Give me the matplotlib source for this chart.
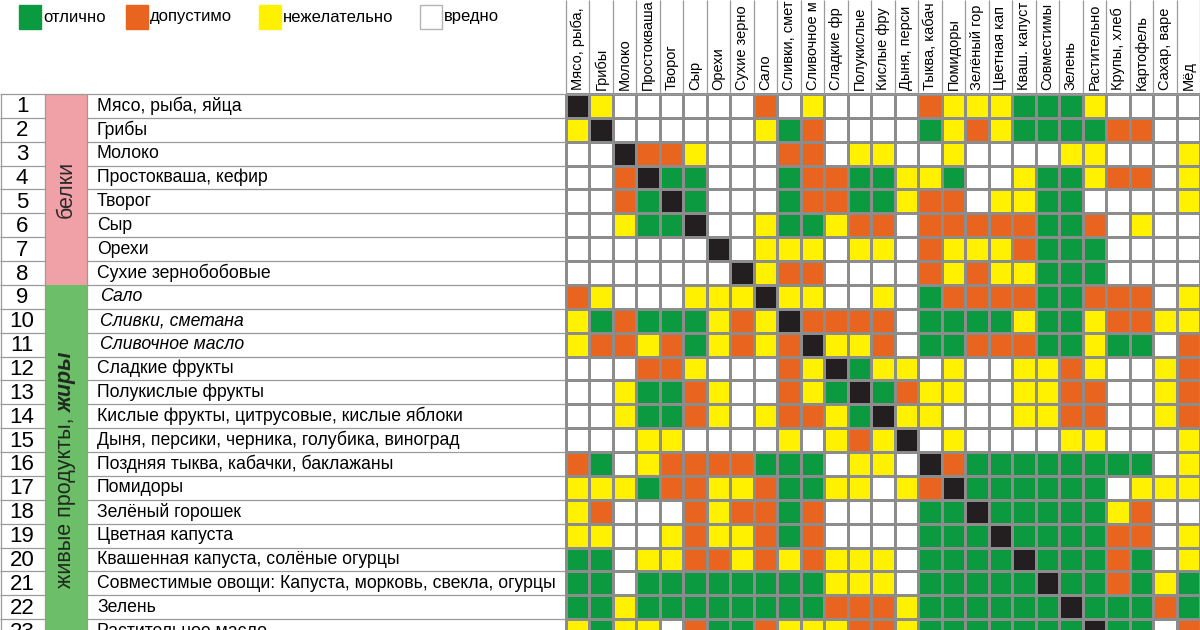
import numpy as np
import matplotlib.pyplot as plt
from matplotlib.colors import ListedColormap, BoundaryNorm
from matplotlib.patches import Rectangle

plt.rcParams['font.family'] = ['Liberation Sans', 'DejaVu Sans']

# column headers (cut off at the top in the original)
col_labels = ["Мясо, рыба,", "Грибы", "Молоко", "Простокваша", "Творог", "Сыр",
              "Орехи", "Сухие зерно", "Сало", "Сливки, смет", "Сливочное м",
              "Сладкие фр", "Полукислые", "Кислые фру", "Дыня, перси",
              "Тыква, кабач", "Помидоры", "Зелёный гор", "Цветная кап",
              "Кваш. капуст", "Совместимы", "Зелень", "Растительно",
              "Крупы, хлеб", "Картофель", "Сахар, варе", "Мёд"]

row_labels = ["Мясо, рыба, яйца", "Грибы", "Молоко", "Простокваша, кефир", "Творог",
              "Сыр", "Орехи", "Сухие зернобобовые", "Сало", "Сливки, сметана",
              "Сливочное масло", "Сладкие фрукты", "Полукислые фрукты",
              "Кислые фрукты, цитрусовые, кислые яблоки",
              "Дыня, персики, черника, голубика, виноград",
              "Поздняя тыква, кабачки, баклажаны", "Помидоры", "Зелёный горошек",
              "Цветная капуста", "Квашенная капуста, солёные огурцы",
              "Совместимые овощи: Капуста, морковь, свекла, огурцы", "Зелень",
              "Растительное масло"]
italic_rows = [9, 10, 11]

# G = отлично, O = допустимо, Y = нежелательно, W = вредно, K = same product
cells = [
    "KYWWWWWWO" "WYWWWWOYY" "YGGGYWWWW",
    "YKWWWWWWY" "GOWWWWGYO" "YGGGGOOWW",
    "WWKOOYWWW" "OOWYYWWYW" "WWWYYWWWY",
    "WWOKGGWWW" "GOOGGYYGW" "WYGGYOOWY",
    "WWOGKGWWW" "GOOGGYOOW" "YYGGWWWWY",
    "WWYGGKWWY" "GGYOOWOOO" "OOGGOWYWW",
    "WWWWWWKWY" "YYWYYWOYY" "YOGGGWWWW",
    "WWWWWWWKY" "OOWWWWOYO" "YYGGGWWWW",
    "OYWWWYYYK" "YYWWYWGOO" "OOGGOOOWY",
    "YGOGGGYOY" "KOOOOWGGG" "GYGGYOOYY",
    "YOOYOGYOY" "OKYYOWGGO" "OOGGYGGWO",
    "WWWOOYWWW" "OYKGYYWYW" "WYYOYWWYO",
    "WWYGGOYWW" "OYGKGOYYW" "WYYOOWWYO",
    "WWYGGOYWY" "OOYGKYYWW" "WYYOOWWYO",
    "WWWYYWWWW" "YWYOYKWYW" "WWWYYWWWY",
    "OGWYOOOOG" "GGWYYWKOG" "GGGGGGGWY",
    "YYYGOOYYO" "GGYYWYOKG" "GGGGGWYYY",
    "YOWWWOYOO" "GOWWWWGGK" "GGGGGYOWW",
    "YYWWYOYYO" "GOWWWWGGG" "KGGGGOOWY",
    "GGWYYOOYO" "YOYYYWGGG" "GKGGGOGWY",
    "GGWGGGGGG" "GGYYYWGGG" "GGKGGOGYG",
    "GGYGGGGGG" "GGOOOYGGG" "GGGKGGGOG",
    "YGYYWOGGO" "YYYOOYGGG" "GGGGKGGWO",
]

legend_labels = ["отлично", "допустимо", "нежелательно", "вредно"]
legend_colors = ["#0c9a40", "#e8641f", "#fff100", "#ffffff"]

group_labels = ["белки", "живые продукты, "]
group_sizes = [8, 15]
group_colors = ["#f0a1a7", "#6dbe68"]

code_index = {"W": 0, "G": 1, "O": 2, "Y": 3, "K": 4}
grid = np.array([[code_index[c] for c in row] for row in cells])
cmap = ListedColormap(["#ffffff", "#0c9a40", "#e8641f", "#fff100", "#231f20"])
norm = BoundaryNorm(np.arange(-0.5, 5.5), cmap.N)

W, H = 1200, 630
x0, y0 = 566, 94
cw = (W - x0) / len(col_labels)
rh = 23.87

fig = plt.figure(figsize=(12, 6.3), dpi=100)
ax = fig.add_axes([0, 0, 1, 1])
ax.set_xlim(0, W)
ax.set_ylim(H, 0)
ax.axis("off")

xe = x0 + cw * np.arange(len(col_labels) + 1)
ye = y0 + rh * np.arange(len(row_labels) + 1)
ax.pcolormesh(xe, ye, grid, cmap=cmap, norm=norm, edgecolors="#8c8c8c", linewidth=0.8)

# group bands
starts = y0 + rh * np.concatenate([[0], np.cumsum(group_sizes)[:-1]])
ax.bar(66, np.array(group_sizes) * rh, bottom=starts, width=42, color=group_colors)

# table lines
ax.hlines(ye[1:], 0, 45, color="#9a9a9a", lw=0.9)
ax.hlines(ye[1:], 87, x0, color="#9a9a9a", lw=0.9)
ax.hlines(y0, 0, W, color="#9a9a9a", lw=0.9)
ax.vlines([0.5, 45, 87], y0, H, color="#9a9a9a", lw=0.9)
ax.vlines(xe, 0, y0, color="#9a9a9a", lw=0.9)

# headers
for i, lab in enumerate(col_labels):
    ax.text(xe[i] + cw / 2, 90, lab, rotation=90, ha="center", va="bottom", fontsize=10.5)

# rows
for i, lab in enumerate(row_labels):
    yc = (ye[i] + ye[i + 1]) / 2
    ax.text(22, yc + 1, str(i + 1), ha="center", va="center", fontsize=16)
    ital = (i + 1) in italic_rows
    ax.text(100 if ital else 97, yc, lab, ha="left", va="center", fontsize=12.7,
            fontstyle="italic" if ital else "normal")

# group labels
ax.text(66, starts[0] + group_sizes[0] * rh / 2, group_labels[0], rotation=90,
        ha="center", va="center", fontsize=15.5, color="#2a2a2a")
t1 = ax.text(66, 588, group_labels[1], rotation=90, ha="center", va="bottom",
             fontsize=15.5, color="#1e2a1e")
ax.annotate("жиры", xy=(0.5, 1.0), xycoords=t1, rotation=90, ha="center", va="bottom",
            fontsize=15.5, fontweight="bold", fontstyle="italic", color="#1e2a1e")

# legend
legend_x = [19, 126, 259, 420]
for x, lab, col in zip(legend_x, legend_labels, legend_colors):
    ax.add_patch(Rectangle((x, 5), 22, 24, facecolor=col,
                           edgecolor="#b4b4b4" if col == "#ffffff" else col, lw=1))
    ax.text(x + 24, 17, lab, ha="left", va="center", fontsize=12)

plt.savefig("out.png", dpi=100)
